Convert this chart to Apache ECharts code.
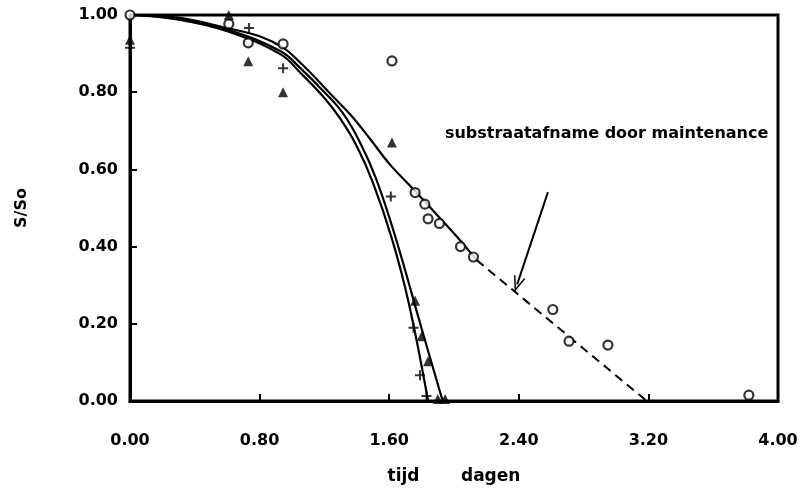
<!DOCTYPE html>
<html><head><meta charset="utf-8">
<script src="https://cdn.jsdelivr.net/npm/echarts@6/dist/echarts.min.js"></script>
<style>html,body{margin:0;padding:0;background:#fff}#c{width:808px;height:490px}</style>
</head><body><div id="c"></div>
<script>
// Measured points
const circlePts = [[0,1.00],[0.61,0.977],[0.73,0.928],[0.945,0.925],[1.617,0.881],[1.76,0.54],[1.82,0.51],[1.84,0.472],[1.91,0.46],[2.04,0.40],[2.12,0.373],[2.61,0.237],[2.71,0.155],[2.95,0.145],[3.82,0.015]];
const trianglePts = [[0,0.936],[0.61,1.00],[0.73,0.88],[0.945,0.80],[1.617,0.67],[1.76,0.26],[1.80,0.168],[1.84,0.103],[1.90,0.005],[1.945,0.005]];
const plusPts = [[0,0.915],[0.735,0.966],[0.945,0.862],[1.61,0.53],[1.75,0.19],[1.79,0.067],[1.83,0.013]];
// Fitted curves
const circleFit = [[0,1],[0.3,0.993],[0.6,0.966],[0.8,0.945],[0.95,0.914],[1.05,0.877],[1.15,0.835],[1.25,0.79],[1.36,0.742],[1.48,0.68],[1.6,0.615],[1.75,0.548],[1.9,0.48],[2.02,0.425],[2.14,0.365]];
const circleExtrap = [[2.14,0.365],[3.19,0]];
const triangleFit = [[0,1],[0.3,0.99],[0.6,0.962],[0.93,0.906],[1.05,0.863],[1.2,0.8],[1.315,0.745],[1.42,0.67],[1.52,0.575],[1.636,0.428],[1.80,0.188],[1.93,0]];
const plusFit = [[0,1],[0.3,0.988],[0.6,0.958],[0.93,0.898],[1.05,0.851],[1.2,0.785],[1.30,0.73],[1.40,0.66],[1.50,0.565],[1.617,0.42],[1.72,0.255],[1.84,0]];
const arrowFrom = [2.58,0.541], arrowTo = [2.39,0.302];
const noteAt = [1.944,0.693];
const noteText = 'substraatafname door maintenance';
const xTicks = {min:0,max:4,interval:0.8};
const yTicks = {min:0,max:1,interval:0.2};

const FONT = 'DejaVu Sans';
const plusPath = 'path://M-1.2,-6 L1.2,-6 L1.2,-1.2 L6,-1.2 L6,1.2 L1.2,1.2 L1.2,6 L-1.2,6 L-1.2,1.2 L-6,1.2 L-6,-1.2 L-1.2,-1.2 Z';
const chevron = 'path://M0,0 L7,14 L5.2,14 L0,3.6 L-5.2,14 L-7,14 Z';
const chart = echarts.init(document.getElementById('c'), null, {renderer:'canvas'});
const fitStyle = {color:'#000', width:2.2};
chart.setOption({
  animation:false,
  backgroundColor:'#fff',
  grid:{left:130,right:30,top:15,bottom:87,show:true,borderColor:'#000',borderWidth:3},
  xAxis:{type:'value',min:xTicks.min,max:xTicks.max,interval:xTicks.interval,
    name:'tijd       dagen',nameLocation:'middle',nameGap:67,
    nameTextStyle:{fontFamily:FONT,fontWeight:'bold',fontSize:17,color:'#000'},
    axisLine:{lineStyle:{color:'#000',width:3}},
    axisTick:{inside:true,length:7,lineStyle:{color:'#000',width:2}},
    axisLabel:{formatter:v=>v.toFixed(2),fontFamily:FONT,fontWeight:'bold',fontSize:16,color:'#000',margin:32},
    splitLine:{show:false}},
  yAxis:{type:'value',min:yTicks.min,max:yTicks.max,interval:yTicks.interval,
    name:'S/So',nameLocation:'middle',nameGap:100,
    nameTextStyle:{fontFamily:FONT,fontWeight:'bold',fontSize:16,color:'#000'},
    axisLine:{lineStyle:{color:'#000',width:3}},
    axisTick:{inside:true,length:7,lineStyle:{color:'#000',width:2}},
    axisLabel:{formatter:v=>v.toFixed(2),fontFamily:FONT,fontWeight:'bold',fontSize:16,color:'#000',margin:12},
    splitLine:{show:false}},
  series:[
    {type:'line',data:circleFit,smooth:0.4,symbol:'none',lineStyle:fitStyle,
      markPoint:{symbol:'circle',symbolSize:0,data:[{coord:noteAt}],
        label:{show:true,position:'right',distance:0,formatter:noteText,fontFamily:FONT,fontWeight:'bold',fontSize:16,color:'#000'}},
      markLine:{silent:true,symbol:['none',chevron],symbolSize:[12,16],
        lineStyle:{color:'#000',width:2,type:'solid'},label:{show:false},
        data:[[{coord:arrowFrom},{coord:arrowTo}]]}},
    {type:'line',data:circleExtrap,symbol:'none',lineStyle:{color:'#000',width:2,type:[9,6]}},
    {type:'line',data:triangleFit,smooth:0.4,symbol:'none',lineStyle:fitStyle},
    {type:'line',data:plusFit,smooth:0.4,symbol:'none',lineStyle:fitStyle},
    {type:'scatter',data:circlePts,symbol:'circle',symbolSize:9,itemStyle:{color:'#fff',borderColor:'#000',borderWidth:2.2},z:5},
    {type:'scatter',data:trianglePts,symbol:'triangle',symbolSize:10,itemStyle:{color:'#000'},z:5},
    {type:'scatter',data:plusPts,symbol:plusPath,symbolSize:10,itemStyle:{color:'#000'},z:5}
  ]
});
</script></body></html>
